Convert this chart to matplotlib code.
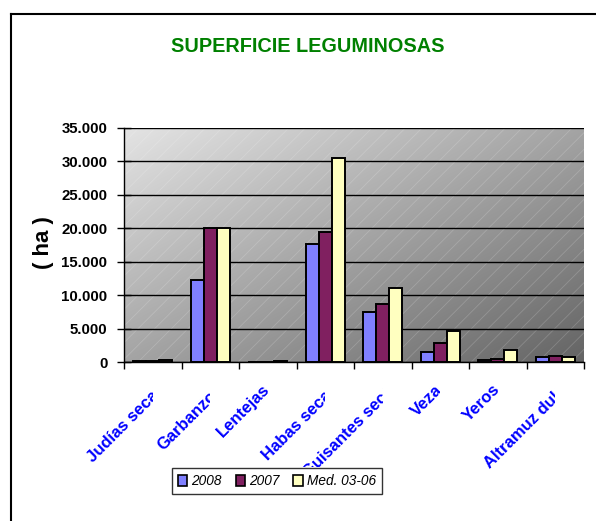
import numpy as np
import matplotlib
matplotlib.use("Agg")
import matplotlib.pyplot as plt
from matplotlib.transforms import Bbox, TransformedBbox, blended_transform_factory, ScaledTranslation
from matplotlib.patches import Rectangle, Patch
from matplotlib.lines import Line2D

categories = ["Judías secas", "Garbanzos", "Lentejas", "Habas secas",
              "Guisantes secos", "Veza", "Yeros", "Altramuz dulce"]
series_names = ["2008", "2007", "Med. 03-06"]
v2008 = [100, 12250, 50, 17600, 7500, 1550, 250, 700]
v2007 = [100, 20000, 50, 19450, 8700, 2900, 500, 900]
vmed = [300, 20000, 200, 30500, 11000, 4600, 1750, 700]
yticks = [0, 5000, 10000, 15000, 20000, 25000, 30000, 35000]
ytick_labels = ["0", "5.000", "10.000", "15.000", "20.000", "25.000", "30.000", "35.000"]
title = "SUPERFICIE LEGUMINOSAS"
ylabel = "( ha )"

colors = ["#8080FF", "#802060", "#FFFFC0"]

sans = "Liberation Sans"
plt.rcParams['hatch.linewidth'] = 0.6

fig = plt.figure(figsize=(5.96, 5.21), dpi=100)
W, H = 596, 521
ax = fig.add_axes([124 / W, 1 - 362 / H, (584 - 124) / W, (362 - 128) / H])

# gradient background: light top-left, dark bottom-right
n = 200
xx, yy = np.meshgrid(np.linspace(0, 1, n), np.linspace(0, 1, n))
g = (xx + yy) / 2.0
lo, hi = 228 / 255, 100 / 255
img = lo + (hi - lo) * g
ax.imshow(np.dstack([img, img, img]), extent=[0, 1, 0, 1], origin="upper",
          transform=ax.transAxes, aspect="auto", zorder=0, interpolation="bilinear")
ax.add_patch(Rectangle((0, 0), 1, 1, transform=ax.transAxes, facecolor="none",
                       edgecolor=(1, 1, 1, 0.18), hatch="//", linewidth=0, zorder=0.5))

x = np.arange(len(categories))
bw = 0.225
for k, (vals, c) in enumerate(zip([v2008, v2007, vmed], colors)):
    ax.bar(x + (k - 1) * bw, vals, width=bw, color=c, edgecolor="black",
           linewidth=1.4, zorder=3)

ax.set_xlim(-0.5, len(categories) - 0.5)
ax.set_ylim(0, 35000)
ax.set_yticks(yticks)
ax.set_yticklabels(ytick_labels, fontfamily=sans, fontweight="bold", fontsize=10.8)
ax.yaxis.grid(True, color="black", linewidth=1.0, zorder=1)
ax.set_axisbelow(True)
ax.tick_params(axis="y", direction="inout", length=10, width=1, pad=7)
ax.set_xticks(np.arange(len(categories) + 1) - 0.5)
ax.set_xticklabels([])
ax.tick_params(axis="x", direction="out", length=5, width=1)
for s in ["top", "right"]:
    ax.spines[s].set_visible(False)
ax.spines["left"].set_linewidth(1)
ax.spines["bottom"].set_linewidth(1)

# rotated category labels, clipped at the category centre like the original
label_dx = [5, 5, -5.5, 5, 10.7, -5.5, -5.5, 10.7]          # px from category centre
label_dy = [-20, -20, -20, -20, -14.3, -20, -20, -14.3]     # px from axis bottom
label_bottom = [467, 467, 467, 467, 467, 0, 0, 0]           # clip bottom (px from top)
base_trans = blended_transform_factory(ax.transData, ax.transAxes)
clip_trans = blended_transform_factory(ax.transData, fig.transFigure)
for i, lab in enumerate(categories):
    off = ScaledTranslation(label_dx[i] / 100, label_dy[i] / 100, fig.dpi_scale_trans)
    t = fig.text(i, 0, lab, transform=base_trans + off, rotation=45,
                 rotation_mode="anchor", ha="right", va="top",
                 color="#0000FF", fontweight="bold", fontsize=12, fontfamily=sans)
    b = label_bottom[i]
    yb = 0 if b == 0 else (H - b) / H
    t.set_clip_box(TransformedBbox(Bbox([[i - 2, yb], [i, 1]]), clip_trans))
    t.set_clip_on(True)

fig.text(171 / W, 1 - 46 / H, title, color="#008000", fontweight="bold",
         fontsize=14.3, fontfamily=sans, ha="left", va="center")
fig.text(43 / W, 1 - 243 / H, ylabel, rotation=90, fontweight="bold", fontsize=16,
         fontfamily=sans, ha="center", va="center")

handles = [Patch(facecolor=c, edgecolor="black", linewidth=1.2) for c in colors]
leg = fig.legend(handles, series_names, loc="center", bbox_to_anchor=(277 / W, 1 - 481 / H),
                 ncol=3, frameon=True, fancybox=False, edgecolor="black",
                 prop={"family": sans, "style": "italic", "size": 9.8},
                 handlelength=0.7, handleheight=0.9, handletextpad=0.3, columnspacing=1.0,
                 borderpad=0.45)
leg.get_frame().set_linewidth(1.0)
leg.set_zorder(5)

# partial outer frame
fig.add_artist(Line2D([11 / W, 11 / W], [0, 1 - 13.5 / H], transform=fig.transFigure,
                      color="black", linewidth=1.5))
fig.add_artist(Line2D([11 / W, 1], [1 - 13.5 / H, 1 - 13.5 / H], transform=fig.transFigure,
                      color="black", linewidth=1.5))

fig.savefig("out.png", dpi=100)
